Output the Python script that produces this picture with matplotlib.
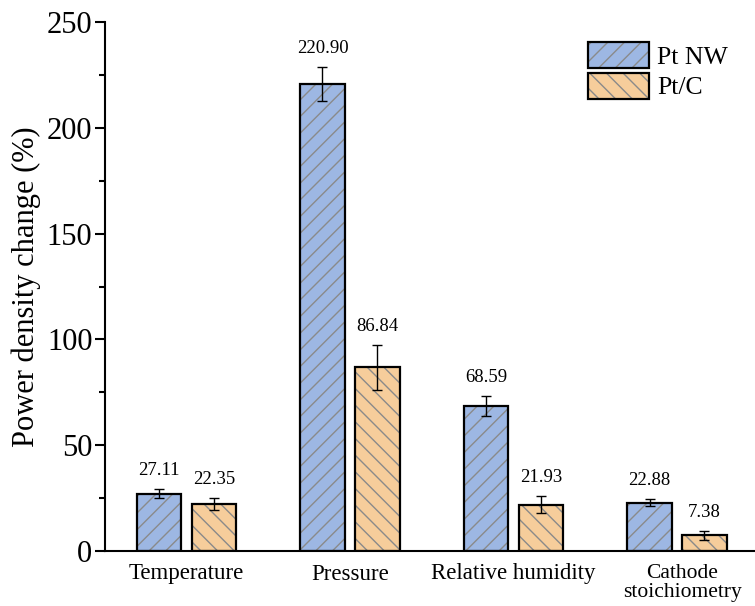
import matplotlib
matplotlib.use("Agg")
import matplotlib.pyplot as plt
from matplotlib.patches import Patch
from matplotlib.transforms import ScaledTranslation
import numpy as np

plt.rcParams['font.family'] = ['Liberation Serif', 'DejaVu Serif']
plt.rcParams['hatch.linewidth'] = 1.0

categories = ["Temperature", "Pressure", "Relative humidity", "Cathode\nstoichiometry"]
series_names = ["Pt NW", "Pt/C"]
pt_nw = [27.11, 220.90, 68.59, 22.88]
pt_nw_err = [2.2, 8.0, 4.8, 1.8]
pt_c = [22.35, 86.84, 21.93, 7.38]
pt_c_err = [2.8, 10.6, 4.0, 2.1]
y_ticks = [0, 50, 100, 150, 200, 250]

colors = ["#9db7e3", "#f6cd9b"]
hatches = ["//", "\\\\"]
hatch_grey = "#8a8a8a"

fig = plt.figure(figsize=(7.55, 6.06), dpi=100)
ax = fig.add_axes([105 / 755, 1 - 551 / 606, 1 - 105 / 755, (551 - 22) / 606])

x = np.arange(len(categories))
width = 0.27
offset = 0.168

for i, (vals, errs) in enumerate([(pt_nw, pt_nw_err), (pt_c, pt_c_err)]):
    pos = x + (offset if i else -offset)
    # hatched fill with grey hatch lines
    ax.bar(pos, vals, width, color=colors[i], edgecolor=hatch_grey, linewidth=0,
           hatch=hatches[i], zorder=2)
    # black outline on top
    ax.bar(pos, vals, width, fill=False, edgecolor="black", linewidth=1.6, zorder=3)
    ax.errorbar(pos, vals, yerr=errs, fmt="none", ecolor="black", elinewidth=1.0,
                capsize=3.5, capthick=1.0, zorder=4)
    for p, v, e in zip(pos, vals, errs):
        ax.annotate(f"{v:.2f}", (p, v + e), xytext=(0, 7), textcoords="offset points",
                    ha="center", va="bottom", fontsize=13.5)

# legend: grey-hatched fill overlaid with a black outline
handles = []
for i in range(2):
    fill = Patch(facecolor=colors[i], edgecolor=hatch_grey, hatch=hatches[i], linewidth=0)
    outline = Patch(fill=False, edgecolor="black", linewidth=1.6)
    handles.append((fill, outline))
ax.legend(handles, series_names, loc="upper left", bbox_to_anchor=(0.743, 0.962),
          frameon=False, fontsize=18.5, handlelength=2.38, handleheight=1.17,
          labelspacing=0.16, handletextpad=0.3, borderaxespad=0, borderpad=0)

ax.set_xlim(-0.498, 3.477)
ax.set_ylim(0, 250)
ax.set_yticks(y_ticks)
ax.set_yticks(np.arange(25, 250, 50), minor=True)
ax.set_xticks(x)
ax.set_xticklabels(categories, fontsize=16.5, linespacing=1.0)
ax.tick_params(axis="x", length=0, pad=9)
ax.tick_params(axis="y", which="major", direction="out", length=7, width=1.5, labelsize=22, pad=2)
ax.tick_params(axis="y", which="minor", direction="out", length=4, width=1.5)

# the two-line label sits slightly right and smaller
last = ax.get_xticklabels()[-1]
last.set_fontsize(15.5)
last.set_transform(last.get_transform() + ScaledTranslation(5 / 100, 0, fig.dpi_scale_trans))

ax.spines["top"].set_visible(False)
ax.spines["right"].set_visible(False)
ax.spines["left"].set_linewidth(1.5)
ax.spines["bottom"].set_linewidth(1.5)
ax.set_ylabel("Power density change (%)", fontsize=22, labelpad=4)

fig.savefig("out.png", dpi=100)
